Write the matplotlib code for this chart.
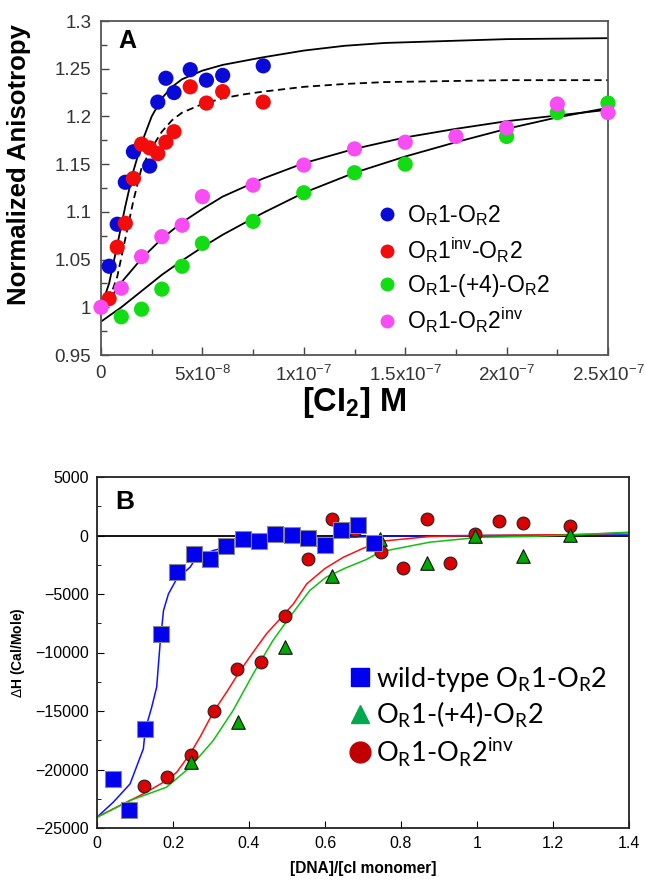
import matplotlib
matplotlib.use("Agg")
import matplotlib.pyplot as plt
from matplotlib.lines import Line2D
from matplotlib.ticker import FixedLocator, MultipleLocator, FormatStrFormatter

plt.rcParams["font.family"] = ["Liberation Sans", "DejaVu Sans"]
plt.rcParams["mathtext.fontset"] = "custom"
plt.rcParams["mathtext.rm"] = "Liberation Sans"
plt.rcParams["mathtext.it"] = "Liberation Sans:italic"
plt.rcParams["mathtext.bf"] = "Liberation Sans:bold"

# ---- panel A: anisotropy titration, x in units of 1e-8 M ----
A_BLUE_X = [0.4, 0.8, 1.2, 1.6, 2.4, 2.8, 3.2, 3.6, 4.4, 5.2, 6.0, 8.0]
A_BLUE_Y = [1.043, 1.087, 1.131, 1.163, 1.148, 1.215, 1.240, 1.225, 1.249, 1.238, 1.243, 1.253]
A_RED_X = [0.4, 0.8, 1.2, 1.6, 2.0, 2.4, 2.8, 3.2, 3.6, 4.4, 5.2, 6.0, 8.0]
A_RED_Y = [1.009, 1.063, 1.088, 1.135, 1.171, 1.167, 1.161, 1.173, 1.184, 1.231, 1.214, 1.226, 1.215]
A_GREEN_X = [1, 2, 3, 4, 5, 7.5, 10, 12.5, 15, 20, 22.5, 25]
A_GREEN_Y = [0.990, 0.998, 1.019, 1.043, 1.067, 1.090, 1.120, 1.141, 1.150, 1.179, 1.204, 1.214]
A_MAG_X = [0, 1, 2, 3, 4, 5, 7.5, 10, 12.5, 15, 17.5, 20, 22.5, 25]
A_MAG_Y = [1.000, 1.020, 1.053, 1.074, 1.086, 1.116, 1.128, 1.149, 1.166, 1.173, 1.179, 1.188, 1.213, 1.204]

# fitted curves
A_FIT1_X = [0, 0.4, 0.8, 1.2, 1.6, 2.0, 2.5, 3, 3.5, 4, 5, 6, 7, 8, 10, 12, 14, 17, 20, 25]
A_FIT_BLUE = [1.000, 1.025, 1.065, 1.106, 1.143, 1.172, 1.200, 1.219, 1.231, 1.239, 1.248, 1.254,
              1.258, 1.262, 1.269, 1.274, 1.277, 1.279, 1.281, 1.282]
A_FIT_RED = [0.998, 1.008, 1.032, 1.072, 1.112, 1.146, 1.167, 1.184, 1.196, 1.204, 1.213, 1.219,
             1.223, 1.226, 1.231, 1.234, 1.236, 1.237, 1.238, 1.238]
A_FIT2_X = [0, 1, 2, 3, 4, 5, 6, 8, 10, 12.5, 15, 17.5, 20, 22.5, 25]
A_FIT_GREEN = [0.985, 1.000, 1.017, 1.034, 1.049, 1.063, 1.076, 1.099, 1.120, 1.141, 1.158, 1.173,
               1.187, 1.199, 1.209]
A_FIT_MAG = [0.995, 1.026, 1.051, 1.072, 1.089, 1.103, 1.116, 1.135, 1.151, 1.166, 1.178, 1.187,
             1.195, 1.201, 1.207]

A_XTICKS = [0, 5e-8, 1e-7, 1.5e-7, 2e-7, 2.5e-7]
A_XTICKLABELS = ["0", r"5x10$^{-8}$", r"1x10$^{-7}$", r"1.5x10$^{-7}$", r"2x10$^{-7}$", r"2.5x10$^{-7}$"]
A_LABELS = [r"O$_\mathregular{R}$1-O$_\mathregular{R}$2",
            r"O$_\mathregular{R}$1$^\mathregular{inv}$-O$_\mathregular{R}$2",
            r"O$_\mathregular{R}$1-(+4)-O$_\mathregular{R}$2",
            r"O$_\mathregular{R}$1-O$_\mathregular{R}$2$^\mathregular{inv}$"]
A_COLORS = ["#0a0ad8", "#f20c0c", "#12dc12", "#f84cf4"]

# ---- panel B: ITC ----
B_WT_X = [0.042, 0.084, 0.126, 0.168, 0.210, 0.255, 0.297, 0.339, 0.384, 0.426, 0.468, 0.513,
          0.555, 0.600, 0.642, 0.687, 0.729]
B_WT_Y = [-20770, -23420, -16580, -8460, -3080, -1620, -1970, -940, -340, -510, 170, 85,
          -256, -770, 510, 940, -650]
B_P4_X = [0.247, 0.371, 0.495, 0.618, 0.745, 0.868, 0.995, 1.121, 1.245]
B_P4_Y = [-19400, -15980, -9490, -3420, -340, -2310, 0, -1790, 85]
B_INV_X = [0.124, 0.184, 0.247, 0.308, 0.368, 0.432, 0.495, 0.555, 0.618, 0.679, 0.747, 0.805,
           0.868, 0.929, 0.995, 1.058, 1.121, 1.245]
B_INV_Y = [-21450, -20680, -18800, -15040, -11450, -10770, -6840, -2050, 1370, 510, -1450, -2740,
           1370, -2310, 170, 1280, 1110, 770]

B_FIT_WT_X = [0, 0.043, 0.087, 0.122, 0.127, 0.144, 0.157, 0.166, 0.175, 0.188, 0.21, 0.245,
              0.262, 0.306, 0.35, 0.394, 0.438, 0.526, 0.613, 0.745, 1.0, 1.4]
B_FIT_WT_Y = [-24080, -22790, -21230, -18230, -16600, -14670, -12960, -9260, -6410, -4990, -3700,
              -2710, -1850, -1280, -940, -710, -570, -370, -200, -60, 0, 50]
B_FIT_INV_X = [0, 0.06, 0.122, 0.183, 0.21, 0.245, 0.271, 0.306, 0.341, 0.377, 0.411, 0.446,
               0.482, 0.517, 0.552, 0.6, 0.647, 0.7, 0.745, 0.876, 1.008, 1.27, 1.4]
B_FIT_INV_Y = [-24080, -23080, -22080, -20940, -20230, -18660, -17240, -15100, -13390, -11540,
               -9970, -8400, -7120, -5840, -4130, -2820, -1880, -1100, -500, -85, 0, 85, 230]
B_FIT_P4_X = [0, 0.087, 0.183, 0.245, 0.306, 0.358, 0.411, 0.463, 0.507, 0.56, 0.603, 0.656,
              0.709, 0.745, 0.876, 1.008, 1.14, 1.27, 1.4]
B_FIT_P4_Y = [-24080, -22650, -21510, -19800, -17520, -14960, -11830, -8970, -6980, -4700, -3560,
              -2750, -2050, -1400, -570, -150, -85, 85, 280]
B_LABELS = [r"wild-type O$_\mathregular{R}$1-O$_\mathregular{R}$2",
            r"O$_\mathregular{R}$1-(+4)-O$_\mathregular{R}$2",
            r"O$_\mathregular{R}$1-O$_\mathregular{R}$2$^\mathregular{inv}$"]

W, H = 646, 881
fig = plt.figure(figsize=(W / 100, H / 100), dpi=100)

# ================= panel A =================
axA = fig.add_axes([101 / W, 1 - 355 / H, 507 / W, 334 / H])
sc = 1e-8
axA.plot([x * sc for x in A_FIT1_X], A_FIT_BLUE, color="black", lw=1.3, zorder=2)
axA.plot([x * sc for x in A_FIT1_X], A_FIT_RED, color="black", lw=1.3, ls=(0, (4, 2.5)), zorder=2)
axA.plot([x * sc for x in A_FIT2_X], A_FIT_GREEN, color="black", lw=1.3, zorder=2)
axA.plot([x * sc for x in A_FIT2_X], A_FIT_MAG, color="black", lw=1.3, zorder=2)

series = [(A_BLUE_X, A_BLUE_Y), (A_RED_X, A_RED_Y), (A_GREEN_X, A_GREEN_Y), (A_MAG_X, A_MAG_Y)]
for (xs, ys), c in zip(series, A_COLORS):
    axA.scatter([x * sc for x in xs], ys, s=120, color=c, edgecolors="none", zorder=3,
                clip_on=False)

axA.set_xlim(0, 2.5e-7)
axA.set_ylim(0.95, 1.3)
axA.xaxis.set_major_locator(FixedLocator(A_XTICKS))
axA.set_xticklabels(A_XTICKLABELS)
axA.xaxis.set_minor_locator(MultipleLocator(2.5e-8))
axA.yaxis.set_major_locator(MultipleLocator(0.05))
axA.yaxis.set_minor_locator(MultipleLocator(0.025))
axA.yaxis.set_major_formatter(FormatStrFormatter("%g"))
axA.tick_params(which="both", direction="in", colors="#444444", labelcolor="#333333",
                labelsize=13.5, width=1)
axA.tick_params(which="major", length=6, pad=7)
axA.tick_params(which="minor", length=4)
for sp in axA.spines.values():
    sp.set_color("#555555")
    sp.set_linewidth(1.3)

axA.set_ylabel("Normalized Anisotropy", fontsize=18.5, fontweight="bold")
axA.yaxis.set_label_coords(-0.138, 0.569)
axA.set_xlabel(r"[CI$_\mathbf{2}$] M", fontsize=23.5, fontweight="bold", labelpad=0)
axA.text(0.035, 0.94, "A", transform=axA.transAxes, fontsize=18, fontweight="bold",
         va="center", ha="left")

handlesA = [Line2D([], [], ls="none", marker="o", markersize=9, color=c) for c in A_COLORS]
axA.legend(handlesA, A_LABELS, loc="upper left", bbox_to_anchor=(0.523, 0.488), frameon=False,
           fontsize=16.5, handlelength=0.8, handletextpad=0.5, labelspacing=0.3, borderpad=0)

# ================= panel B =================
axB = fig.add_axes([97 / W, 1 - 828 / H, 532 / W, 351 / H])
axB.axhline(0, color="black", lw=1.3, zorder=1)
axB.plot(B_FIT_WT_X, B_FIT_WT_Y, color="#1010ff", lw=1.1, zorder=2)
axB.plot(B_FIT_INV_X, B_FIT_INV_Y, color="#ff1010", lw=1.1, zorder=2)
axB.plot(B_FIT_P4_X, B_FIT_P4_Y, color="#10c010", lw=1.1, zorder=2)

axB.scatter(B_INV_X, B_INV_Y, s=85, marker="o", color="#dd0000", edgecolors="#222222",
            linewidths=0.8, zorder=3)
axB.scatter(B_P4_X, B_P4_Y, s=95, marker="^", color="#00a800", edgecolors="#111111",
            linewidths=0.8, zorder=4)
axB.scatter(B_WT_X, B_WT_Y, s=130, marker="s", color="#0000ee", edgecolors="#888888",
            linewidths=0.8, zorder=5)

axB.set_xlim(0, 1.4)
axB.set_ylim(-25000, 5000)
axB.xaxis.set_major_locator(MultipleLocator(0.2))
axB.xaxis.set_major_formatter(FormatStrFormatter("%g"))
axB.yaxis.set_major_locator(MultipleLocator(5000))
axB.yaxis.set_minor_locator(MultipleLocator(2500))
axB.tick_params(which="both", direction="in", labelsize=11.5, colors="black")
axB.tick_params(which="major", length=5, pad=6)
axB.tick_params(which="minor", length=3)
for sp in axB.spines.values():
    sp.set_color("#222222")
    sp.set_linewidth(1.3)

axB.set_ylabel(r"$\Delta$H (Cal/Mole)", fontsize=10, fontweight="bold", labelpad=6)
axB.set_xlabel("[DNA]/[cI monomer]", fontsize=11.2, fontweight="bold", labelpad=7)
axB.text(0.035, 0.93, "B", transform=axB.transAxes, fontsize=19, fontweight="bold",
         va="center", ha="left")

handlesB = [Line2D([], [], ls="none", marker="s", markersize=13, color="#0000ee"),
            Line2D([], [], ls="none", marker="^", markersize=13, color="#00a850"),
            Line2D([], [], ls="none", marker="o", markersize=15, color="#c00000")]
axB.legend(handlesB, B_LABELS, loc="upper left", bbox_to_anchor=(0.446, 0.504), frameon=False,
           handlelength=0.9, handletextpad=0.15, labelspacing=0.2, borderpad=0,
           prop={"family": ["Lato", "DejaVu Sans"], "size": 19.5})

fig.savefig("out.png", dpi=100)
